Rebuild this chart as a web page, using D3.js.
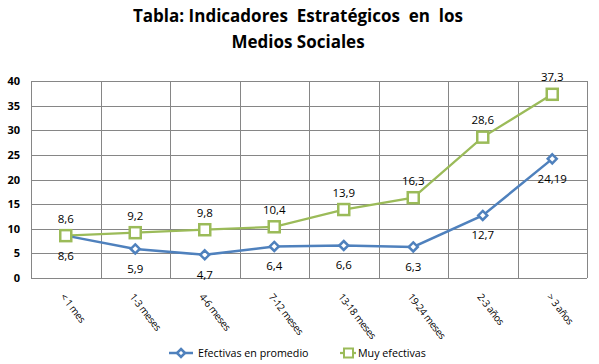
<!DOCTYPE html>
<html><head><meta charset="utf-8">
<script src="https://cdn.jsdelivr.net/npm/d3@7"></script>
<style>body{margin:0;background:#fff}svg{display:block}</style>
</head><body>
<script>
const categories = ["< 1 mes","1-3 meses","4-6 meses","7-12 meses","13-18 meses","19-24 meses","2-3 años","> 3 años"];
const promedio = [8.6,5.9,4.7,6.4,6.6,6.3,12.7,24.19];
const muy = [8.6,9.2,9.8,10.4,13.9,16.3,28.6,37.3];
const promedioLabels = ["8,6","5,9","4,7","6,4","6,6","6,3","12,7","24,19"];
const muyLabels = ["8,6","9,2","9,8","10,4","13,9","16,3","28,6","37,3"];
const yTicks = [0,5,10,15,20,25,30,35,40];
const titleLines = ["Tabla: Indicadores  Estratégicos  en  los","Medios Sociales"];
const seriesNames = ["Efectivas en promedio","Muy efectivas"];

const W=599,H=364;
const svg=d3.select("body").append("svg").attr("width",W).attr("height",H);
const L=31,R=587,T=81,B=278;
const x=d3.scaleBand().domain(categories).range([L,R]);
const y=d3.scaleLinear().domain([0,40]).range([B,T]);
const font="'Open Sans', sans-serif";

svg.selectAll(".title").data(titleLines).enter().append("text")
 .attr("x",298).attr("y",(d,i)=>22+i*26).attr("text-anchor","middle")
 .attr("font-family",font).attr("font-weight","bold").attr("font-size",17).attr("fill","#000")
 .attr("xml:space","preserve").style("white-space","pre").text(d=>d);

// grid
svg.selectAll(".hg").data(yTicks).enter().append("line")
 .attr("x1",L).attr("x2",R).attr("y1",d=>Math.round(y(d))+0.5).attr("y2",d=>Math.round(y(d))+0.5)
 .attr("stroke","#868686").attr("stroke-width",1);
const bounds=categories.map(c=>x(c)).concat([R]);
svg.selectAll(".vg").data(bounds).enter().append("line")
 .attr("x1",d=>Math.round(d)+0.5).attr("x2",d=>Math.round(d)+0.5).attr("y1",T).attr("y2",B)
 .attr("stroke","#868686").attr("stroke-width",1);

// y labels
svg.selectAll(".yl").data(yTicks).enter().append("text")
 .attr("x",20).attr("y",d=>y(d)+4).attr("text-anchor","end").attr("fill","#000")
 .attr("font-family",font).attr("font-weight","bold").attr("font-size",11).text(d=>d);

// x labels
svg.selectAll(".xl").data(categories).enter().append("text")
 .attr("transform",d=>`translate(${x(d)+x.bandwidth()/2-6},${297}) rotate(52)`)
 .attr("fill","#000").attr("font-family",font).attr("font-size",10).attr("letter-spacing",-0.4).text(d=>d);

const cx=c=>x(c)+x.bandwidth()/2;
const line=d3.line().x((d,i)=>cx(categories[i])).y(d=>y(d));
svg.append("path").datum(muy).attr("d",line).attr("fill","none").attr("stroke","#9BBB59").attr("stroke-width",2.25);
svg.append("path").datum(promedio).attr("d",line).attr("fill","none").attr("stroke","#4F81BD").attr("stroke-width",2.5);

function drawDiamond(g,xx,yy,s){g.append("path").attr("d",`M${xx},${yy-s}L${xx+s},${yy}L${xx},${yy+s}L${xx-s},${yy}Z`).attr("fill","#fff").attr("stroke","#4F81BD").attr("stroke-width",2.5);}
const gm=svg.append("g");
promedio.forEach((v,i)=>drawDiamond(gm,cx(categories[i]),y(v),4.5));
muy.forEach((v,i)=>gm.append("rect").attr("x",cx(categories[i])-5.5).attr("y",y(v)-5.5).attr("width",11).attr("height",11)
 .attr("fill","#fff").attr("stroke","#9BBB59").attr("stroke-width",2.5));

svg.selectAll(".ml").data(muy).enter().append("text")
 .attr("x",(d,i)=>cx(categories[i])).attr("y",d=>y(d)-13).attr("text-anchor","middle").attr("fill","#000")
 .attr("font-family",font).attr("font-size",11.5).text((d,i)=>muyLabels[i]);
svg.selectAll(".pl").data(promedio).enter().append("text")
 .attr("x",(d,i)=>cx(categories[i])).attr("y",d=>y(d)+24).attr("text-anchor","middle").attr("fill","#000")
 .attr("font-family",font).attr("font-size",11.5).text((d,i)=>promedioLabels[i]);

// legend
const lg=svg.append("g");
lg.append("line").attr("x1",169).attr("x2",193).attr("y1",353).attr("y2",353).attr("stroke","#4F81BD").attr("stroke-width",2.5);
drawDiamond(lg,181,353,4);
lg.append("text").attr("x",198).attr("y",357).attr("fill","#000").attr("font-family",font).attr("font-size",10.7).text(seriesNames[0]);
lg.append("line").attr("x1",340).attr("x2",356).attr("y1",353).attr("y2",353).attr("stroke","#9BBB59").attr("stroke-width",2.25);
lg.append("rect").attr("x",344).attr("y",348.5).attr("width",9).attr("height",9).attr("fill","#fff").attr("stroke","#9BBB59").attr("stroke-width",2);
lg.append("text").attr("x",358).attr("y",357).attr("fill","#000").attr("font-family",font).attr("font-size",10.7).text(seriesNames[1]);
</script>
</body></html>
